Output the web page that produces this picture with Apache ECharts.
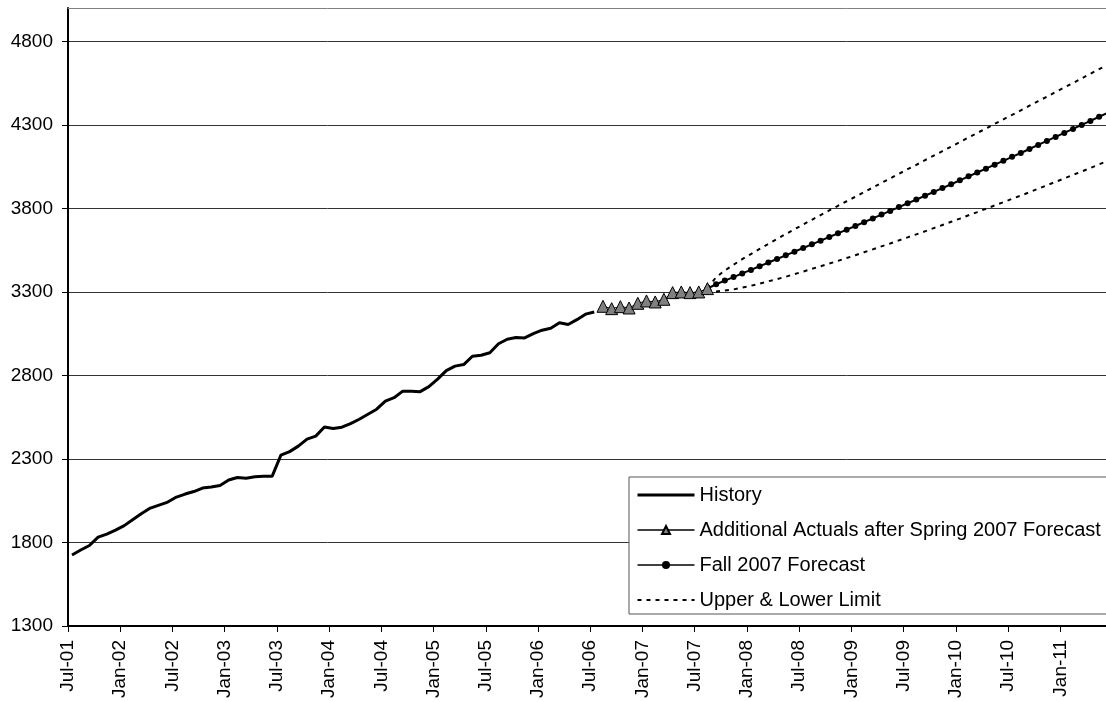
<!DOCTYPE html>
<html><head><meta charset="utf-8">
<script src="https://cdn.jsdelivr.net/npm/echarts@6/dist/echarts.min.js"></script>
<style>html,body{margin:0;padding:0;background:#fff}#c{width:1106px;height:702px}</style>
</head><body><div id="c"></div>
<script>
// ---- data ----
const axisStart = '2001-07';
const tickLabels = ['Jul-01','Jan-02','Jul-02','Jan-03','Jul-03','Jan-04','Jul-04','Jan-05','Jul-05','Jan-06',
  'Jul-06','Jan-07','Jul-07','Jan-08','Jul-08','Jan-09','Jul-09','Jan-10','Jul-10','Jan-11'];
const yTicks = [1300,1800,2300,2800,3300,3800,4300,4800];

const historyStart = '2001-07';
const historyValues = [1725,1755,1782,1832,1850,1874,1901,1937,1973,2006,2024,2042,2072,2090,2105,2126,2132,2141,2174,2189,
  2185,2193,2196,2197,2323,2344,2377,2419,2437,2491,2482,2490,2512,2538,2568,2598,2646,2667,2706,2706,
  2703,2733,2778,2829,2856,2865,2915,2921,2936,2990,3017,3027,3025,3051,3071,3083,3115,3105,3134,3167,3180];

const actualsStart = '2006-08';
const actualsValues = [3214,3200,3212,3204,3232,3246,3240,3256,3296,3300,3296,3300,3320];

// forecast and limits start from the last actual (Aug-07)
const forecastStart = '2007-08';
const forecastValues = [3320,3346,3368,3389,3411,3432,3454,3476,3497,3519,3541,3563,3585,3607,3629,3651,3673,3695,3718,3740,3763,
  3785,3808,3831,3853,3876,3899,3922,3945,3968,3992,4015,4038,4062,4085,4109,4132,4156,4180,4204,4228,
  4252,4276,4300,4324,4349,4373];
const upperValues = [3320,3389,3428,3463,3496,3527,3558,3588,3617,3647,3675,3704,3732,3760,3788,3816,3843,3870,3898,3925,3953,
  3980,4007,4035,4061,4089,4116,4143,4170,4197,4225,4252,4278,4306,4333,4360,4387,4415,4442,4469,4497,
  4524,4551,4579,4606,4634,4661];
const lowerValues = [3320,3303,3308,3315,3326,3337,3350,3364,3377,3391,3407,3422,3438,3454,3470,3486,3503,3520,3538,3555,3573,
  3590,3609,3627,3645,3663,3682,3701,3720,3739,3759,3778,3798,3818,3837,3858,3877,3897,3918,3939,3959,
  3980,4001,4021,4042,4064,4085];

// ---- helpers ----
function monthIndex(ym){
  const [y,m] = ym.split('-').map(Number);
  const [y0,m0] = axisStart.split('-').map(Number);
  return (y - y0) * 12 + (m - m0);
}
const MID_MONTH = 0.46; // monthly observations are plotted mid-month
function toPoints(start, vals){
  const s = monthIndex(start);
  return vals.map((v, i) => [s + i + MID_MONTH, v]);
}
const tickPositions = tickLabels.map((_, i) => i * 6);
const X_MAX = 119.25;

const FONT = 'Liberation Sans, Arial, sans-serif';
const noSymbol = {opacity: 0};
const chart = echarts.init(document.getElementById('c'), null, {renderer: 'canvas'});
chart.setOption({
  animation: false,
  backgroundColor: '#fff',
  textStyle: {fontFamily: FONT},
  grid: {left: 68, right: 0, top: 8, bottom: 76, containLabel: false},
  legend: {
    data: [
      {name: 'History', itemStyle: noSymbol, lineStyle: {color: '#000', width: 3}},
      {name: 'Additional Actuals after Spring 2007 Forecast', lineStyle: {color: '#000', width: 1.5}},
      {name: 'Fall 2007 Forecast', lineStyle: {color: '#000', width: 1.5}},
      {name: 'Upper & Lower Limit', itemStyle: noSymbol}
    ],
    orient: 'vertical', left: 629, top: 477,
    itemWidth: 57, itemHeight: 10, itemGap: 15,
    backgroundColor: '#fff', borderColor: '#555', borderWidth: 1, borderRadius: 0,
    padding: [8, 8, 4, 7],
    textStyle: {fontFamily: FONT, fontSize: 20, color: '#000', lineHeight: 20},
    selectedMode: false
  },
  xAxis: [{
    type: 'value', min: 0, max: X_MAX, interval: 6,
    axisLine: {show: true, onZero: false, lineStyle: {color: '#000', width: 2}},
    axisTick: {show: true, length: 6, customValues: tickPositions, lineStyle: {color: '#000', width: 1}},
    axisLabel: {
      customValues: tickPositions, rotate: 90, margin: 14,
      fontFamily: FONT, fontSize: 19, color: '#000',
      formatter: v => tickLabels[Math.round(v / 6)] || ''
    },
    splitLine: {show: false}
  }, {
    type: 'value', min: 0, max: X_MAX, position: 'top',
    axisLine: {show: true, onZero: false, lineStyle: {color: '#808080', width: 1}},
    axisTick: {show: false}, axisLabel: {show: false}, splitLine: {show: false}
  }],
  yAxis: {
    type: 'value', min: 1300, max: 5000, interval: 500,
    axisLine: {show: true, lineStyle: {color: '#000', width: 2}},
    axisTick: {show: true, length: 6, customValues: yTicks, lineStyle: {color: '#000', width: 1}},
    axisLabel: {customValues: yTicks, margin: 15, fontFamily: FONT, fontSize: 19, color: '#000',
      formatter: v => String(v)},
    splitLine: {show: true, lineStyle: {color: '#333', width: 1}}
  },
  series: [
    {
      name: 'History', type: 'line', data: toPoints(historyStart, historyValues),
      symbol: 'none', lineStyle: {color: '#000', width: 3}, itemStyle: {color: '#000'}, z: 3
    },
    {
      name: 'Upper & Lower Limit', type: 'line', data: toPoints(forecastStart, upperValues),
      symbol: 'none', lineStyle: {color: '#000', width: 2, type: [4, 5]}, itemStyle: {color: '#000'}, z: 2
    },
    {
      name: 'Upper & Lower Limit', type: 'line', data: toPoints(forecastStart, lowerValues),
      symbol: 'none', lineStyle: {color: '#000', width: 2, type: [4, 5]}, itemStyle: {color: '#000'}, z: 2
    },
    {
      name: 'Fall 2007 Forecast', type: 'line', data: toPoints(forecastStart, forecastValues),
      symbol: 'circle', symbolSize: 6, showAllSymbol: true,
      lineStyle: {color: '#000', width: 2}, itemStyle: {color: '#000'}, z: 5
    },
    {
      name: 'Additional Actuals after Spring 2007 Forecast', type: 'line', data: toPoints(actualsStart, actualsValues),
      symbol: 'triangle', symbolSize: 12,
      lineStyle: {color: '#000', width: 1},
      itemStyle: {color: '#808080', borderColor: '#000', borderWidth: 1}, z: 6
    }
  ]
});
</script>
</body></html>
